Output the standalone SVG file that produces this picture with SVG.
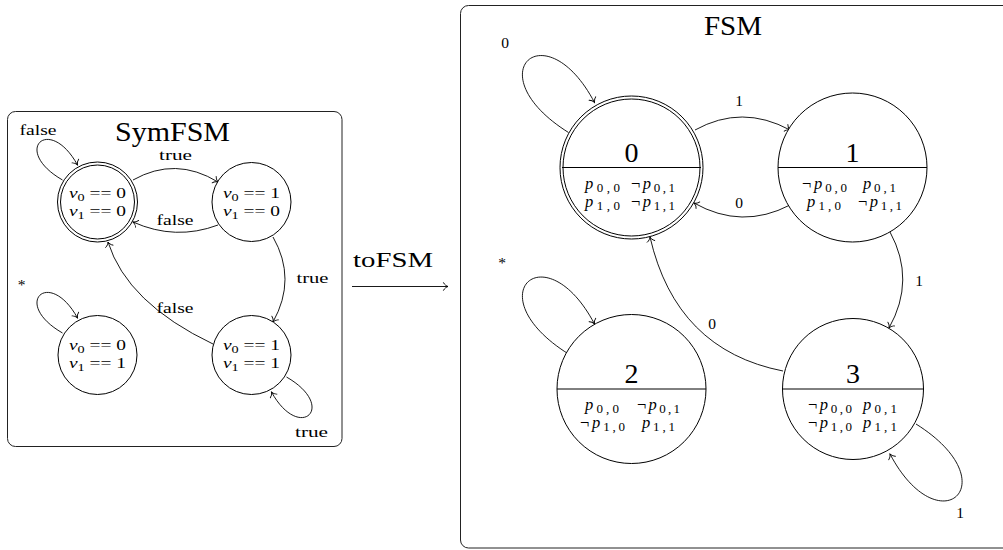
<svg xmlns="http://www.w3.org/2000/svg" width="1003" height="550" viewBox="0 0 1003 550">
  <defs>
    <marker id="to" viewBox="-6 -5 7 10" refX="0" refY="0" markerWidth="7" markerHeight="10" markerUnits="userSpaceOnUse" orient="auto">
      <path d="M-4.5,-3.8 C-3.5,-1.6 -1.2,-0.4 0,0 C-1.2,0.4 -3.5,1.6 -4.5,3.8" fill="none" stroke="#000" stroke-width="0.9" stroke-linecap="round"/>
    </marker>
    <style>
      .frame{fill:none;stroke:#222;stroke-width:1}
      .state{fill:#fff;stroke:#000;stroke-width:1}
      .ring{fill:none;stroke:#000;stroke-width:1}
      .split{stroke:#000;stroke-width:1}
      .edge{fill:none;stroke:#000;stroke-width:0.9;marker-end:url(#to)}
      text{font-family:"Liberation Serif","DejaVu Serif",serif;fill:#000}
      .title{font-size:27px;text-anchor:middle}
      .lbl{font-size:15.5px;text-anchor:middle}
      .num{font-size:28px;text-anchor:middle}
      .lit{font-size:16.5px;text-anchor:middle}
      .cond{font-size:15px;text-anchor:middle}
      .it{font-style:italic}
      .sub{font-size:13px}
      .csub{font-size:11px}
    </style>
  </defs>

  <!-- symbolic machine -->
  <g id="symfsm-frame">
    <rect class="frame" x="7.5" y="111.5" width="334.5" height="335" rx="8"/>
    <text class="title" x="172.5" y="141" textLength="115" lengthAdjust="spacingAndGlyphs">SymFSM</text>
  </g>

  <g id="sym-connectors">
    <path class="edge" d="M62.5,180 C10.5,150 49.5,114 77.5,165"/>
    <path class="edge" d="M133,180 Q175.5,156 218,182"/>
    <path class="edge" d="M218,225 Q175.5,241 133,222"/>
    <path class="edge" d="M273,237 Q297,279 273,322"/>
    <path class="edge" d="M213,344 Q127,303 108,242"/>
    <path class="edge" d="M62.5,333 C10.5,303 49.5,267 77.5,318"/>
    <path class="edge" d="M286.5,377 C338.5,407 299.5,443 271.5,392"/>
    <text class="lbl" x="38" y="135" textLength="37" lengthAdjust="spacingAndGlyphs">false</text>
    <text class="lbl" x="175.5" y="160" textLength="33" lengthAdjust="spacingAndGlyphs">true</text>
    <text class="lbl" x="175" y="224.5" textLength="37" lengthAdjust="spacingAndGlyphs">false</text>
    <text class="lbl" x="312.5" y="283" textLength="32" lengthAdjust="spacingAndGlyphs">true</text>
    <text class="lbl" x="175" y="313" textLength="37" lengthAdjust="spacingAndGlyphs">false</text>
    <text class="lbl" x="21.5" y="290">*</text>
    <text class="lbl" x="311.5" y="437" textLength="33" lengthAdjust="spacingAndGlyphs">true</text>
  </g>

  <g id="sym-s00">
    <circle class="state" cx="97.5" cy="202" r="40"/>
    <circle class="ring" cx="97.5" cy="202" r="37"/>
    <text class="cond" x="97.5" y="198" textLength="57" lengthAdjust="spacingAndGlyphs"><tspan class="it">v</tspan><tspan class="csub" dy="3">0</tspan><tspan dy="-3"> == 0</tspan></text>
    <text class="cond" x="97.5" y="215.5" textLength="57" lengthAdjust="spacingAndGlyphs"><tspan class="it">v</tspan><tspan class="csub" dy="3">1</tspan><tspan dy="-3"> == 0</tspan></text>
  </g>
  <g id="sym-s10">
    <circle class="state" cx="251.5" cy="202" r="39.5"/>
    <text class="cond" x="251.5" y="198" textLength="57" lengthAdjust="spacingAndGlyphs"><tspan class="it">v</tspan><tspan class="csub" dy="3">0</tspan><tspan dy="-3"> == 1</tspan></text>
    <text class="cond" x="251.5" y="215.5" textLength="57" lengthAdjust="spacingAndGlyphs"><tspan class="it">v</tspan><tspan class="csub" dy="3">1</tspan><tspan dy="-3"> == 0</tspan></text>
  </g>
  <g id="sym-s01">
    <circle class="state" cx="97.5" cy="355" r="39.5"/>
    <text class="cond" x="97.5" y="350" textLength="57" lengthAdjust="spacingAndGlyphs"><tspan class="it">v</tspan><tspan class="csub" dy="3">0</tspan><tspan dy="-3"> == 0</tspan></text>
    <text class="cond" x="97.5" y="367.5" textLength="57" lengthAdjust="spacingAndGlyphs"><tspan class="it">v</tspan><tspan class="csub" dy="3">1</tspan><tspan dy="-3"> == 1</tspan></text>
  </g>
  <g id="sym-s11">
    <circle class="state" cx="251.5" cy="355" r="39.5"/>
    <text class="cond" x="251.5" y="350" textLength="57" lengthAdjust="spacingAndGlyphs"><tspan class="it">v</tspan><tspan class="csub" dy="3">0</tspan><tspan dy="-3"> == 1</tspan></text>
    <text class="cond" x="251.5" y="367.5" textLength="57" lengthAdjust="spacingAndGlyphs"><tspan class="it">v</tspan><tspan class="csub" dy="3">1</tspan><tspan dy="-3"> == 1</tspan></text>
  </g>

  <!-- translation step -->
  <g id="tofsm">
    <text x="393" y="266.5" style="font-size:22px;text-anchor:middle" textLength="80" lengthAdjust="spacingAndGlyphs">toFSM</text>
    <path class="edge" d="M352,286.5 L448,286.5"/>
  </g>

  <!-- explicit machine -->
  <g id="fsm-frame">
    <rect class="frame" x="460.5" y="5.5" width="600" height="542.5" rx="8"/>
    <text class="title" x="733" y="35" textLength="58" lengthAdjust="spacingAndGlyphs">FSM</text>
  </g>

  <g id="fsm-connectors">
    <path class="edge" d="M568.5,132.5 C474.5,73.5 545.5,9.5 594.5,102.5"/>
    <path class="edge" d="M695,130 Q742,104 790,130"/>
    <path class="edge" d="M790,205 Q742,230 694,203"/>
    <path class="edge" d="M890,232 Q916,280 889,328"/>
    <path class="edge" d="M783,371 Q676,350 650,237"/>
    <path class="edge" d="M568.5,354 C474.5,295 545.5,231 594.5,324"/>
    <path class="edge" d="M916,424 C1010,483 939,547 890,454"/>
    <text class="lbl" x="505" y="48">0</text>
    <text class="lbl" x="739" y="106">1</text>
    <text class="lbl" x="739" y="208">0</text>
    <text class="lbl" x="919" y="286">1</text>
    <text class="lbl" x="712" y="329">0</text>
    <text class="lbl" x="502" y="268">*</text>
    <text class="lbl" x="960" y="518">1</text>
  </g>

  <g id="fsm-state-0">
    <circle class="state" cx="631.5" cy="167.5" r="71.5"/>
    <circle class="ring" cx="631.5" cy="167.5" r="68.5"/>
    <line class="split" x1="562" y1="167.5" x2="701" y2="167.5"/>
    <text class="num" x="631.5" y="162">0</text>
    <text class="lit" x="602.5" y="189" textLength="35"><tspan class="it">p</tspan><tspan class="sub" dy="2.5">0,0</tspan></text>
    <text class="lit" x="653" y="189" textLength="44">¬<tspan class="it">p</tspan><tspan class="sub" dy="2.5">0,1</tspan></text>
    <text class="lit" x="602.5" y="207" textLength="35"><tspan class="it">p</tspan><tspan class="sub" dy="2.5">1,0</tspan></text>
    <text class="lit" x="653" y="207" textLength="44">¬<tspan class="it">p</tspan><tspan class="sub" dy="2.5">1,1</tspan></text>
  </g>
  <g id="fsm-state-1">
    <circle class="state" cx="852.5" cy="167.5" r="74.5"/>
    <line class="split" x1="778" y1="167.5" x2="927" y2="167.5"/>
    <text class="num" x="852.5" y="162">1</text>
    <text class="lit" x="824.5" y="189" textLength="45">¬<tspan class="it">p</tspan><tspan class="sub" dy="2.5">0,0</tspan></text>
    <text class="lit" x="879.5" y="189" textLength="33"><tspan class="it">p</tspan><tspan class="sub" dy="2.5">0,1</tspan></text>
    <text class="lit" x="824" y="207" textLength="34"><tspan class="it">p</tspan><tspan class="sub" dy="2.5">1,0</tspan></text>
    <text class="lit" x="880" y="207" textLength="44">¬<tspan class="it">p</tspan><tspan class="sub" dy="2.5">1,1</tspan></text>
  </g>
  <g id="fsm-state-2">
    <circle class="state" cx="631.5" cy="389" r="74.5"/>
    <line class="split" x1="557" y1="389" x2="706" y2="389"/>
    <text class="num" x="631.5" y="383">2</text>
    <text class="lit" x="602" y="410" textLength="34"><tspan class="it">p</tspan><tspan class="sub" dy="2.5">0,0</tspan></text>
    <text class="lit" x="658.5" y="410" textLength="43">¬<tspan class="it">p</tspan><tspan class="sub" dy="2.5">0,1</tspan></text>
    <text class="lit" x="602.5" y="428" textLength="45">¬<tspan class="it">p</tspan><tspan class="sub" dy="2.5">1,0</tspan></text>
    <text class="lit" x="658.5" y="428" textLength="33"><tspan class="it">p</tspan><tspan class="sub" dy="2.5">1,1</tspan></text>
  </g>
  <g id="fsm-state-3">
    <circle class="state" cx="853" cy="389" r="70.5"/>
    <line class="split" x1="782.5" y1="389" x2="923.5" y2="389"/>
    <text class="num" x="853" y="383">3</text>
    <text class="lit" x="830" y="410" textLength="44">¬<tspan class="it">p</tspan><tspan class="sub" dy="2.5">0,0</tspan></text>
    <text class="lit" x="880" y="410" textLength="34"><tspan class="it">p</tspan><tspan class="sub" dy="2.5">0,1</tspan></text>
    <text class="lit" x="830" y="428" textLength="44">¬<tspan class="it">p</tspan><tspan class="sub" dy="2.5">1,0</tspan></text>
    <text class="lit" x="880" y="428" textLength="34"><tspan class="it">p</tspan><tspan class="sub" dy="2.5">1,1</tspan></text>
  </g>
</svg>
